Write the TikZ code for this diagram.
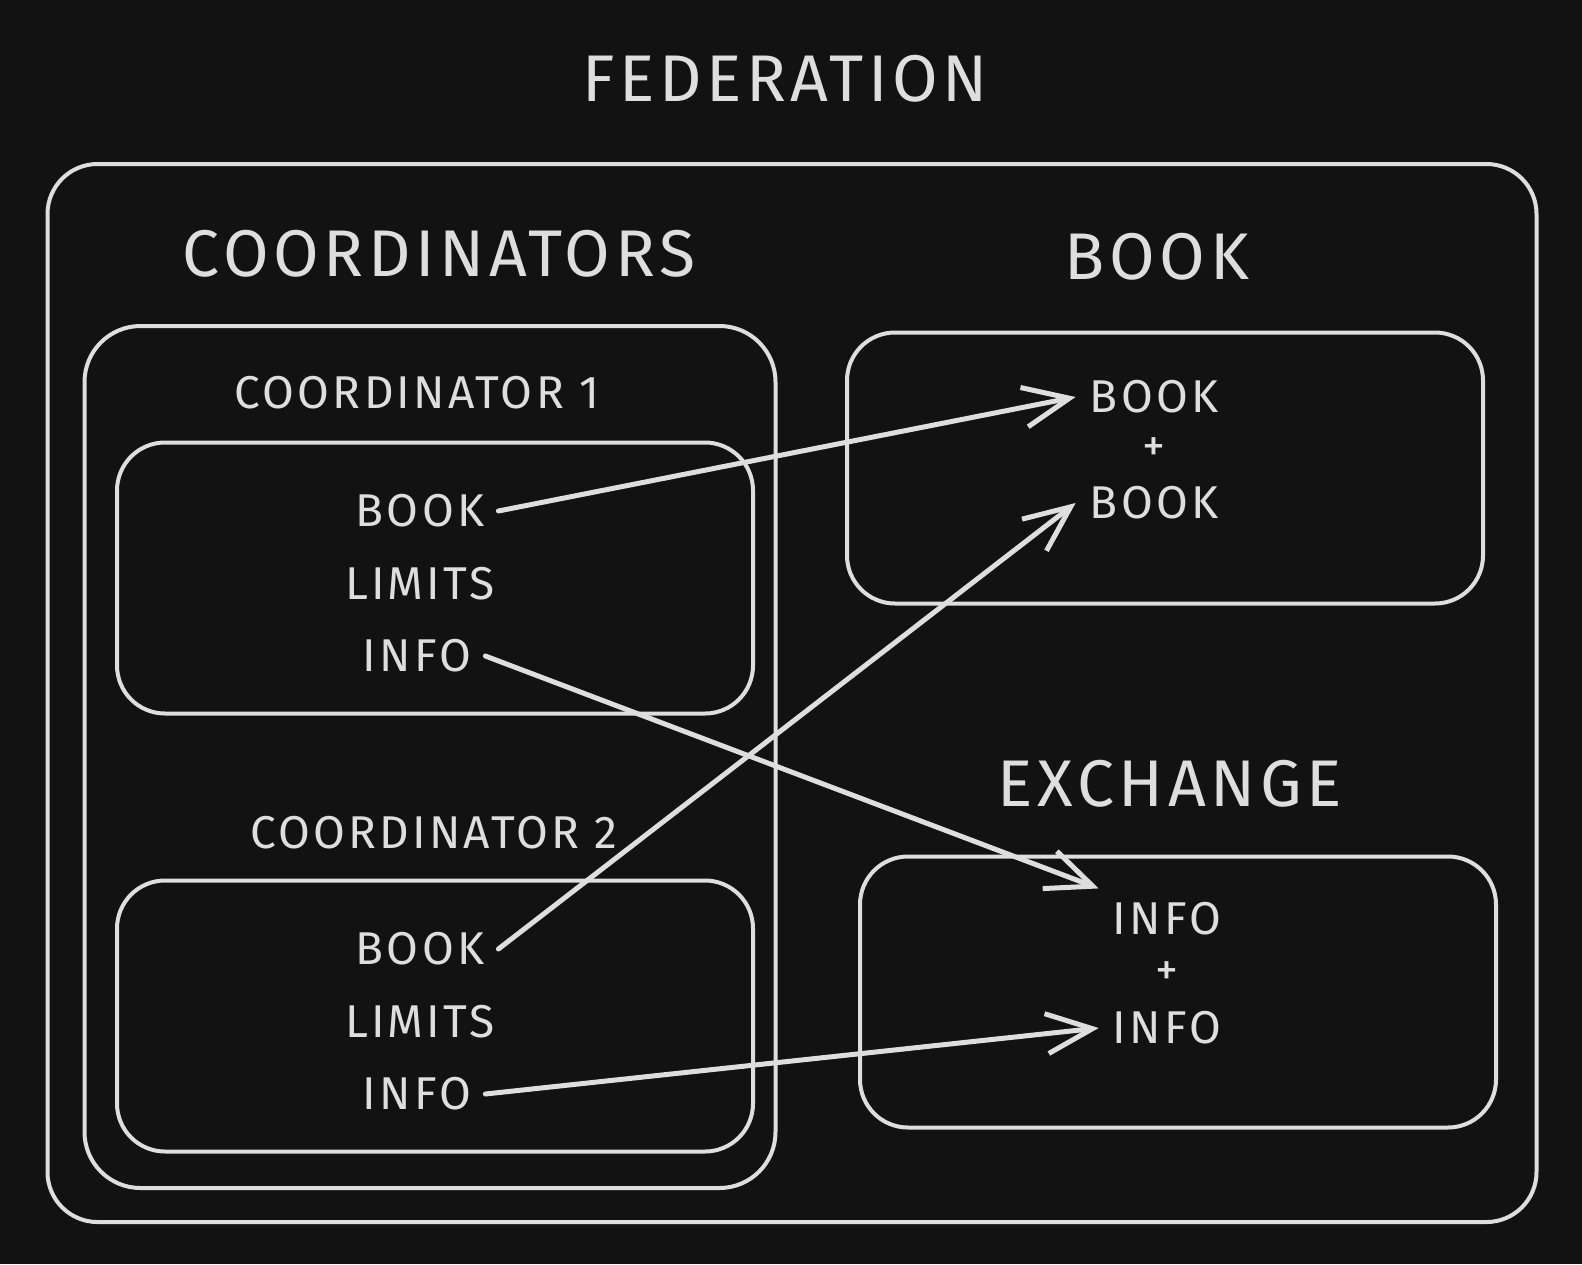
\documentclass[tikz,border=0pt]{standalone}
\usepackage{fontspec}
\setmainfont{Fira Sans}[LetterSpace=7]
\usetikzlibrary{arrows.meta}
\definecolor{bg}{RGB}{18,18,18}
\definecolor{ink}{RGB}{222,222,222}
\tikzstyle{box}=[draw=ink,line width=4pt,rounded corners=48pt,minimum width=636pt,minimum height=271pt]
\tikzstyle{title}=[text=ink,font=\fontsize{66}{72}\selectfont]
\tikzstyle{sub}=[text=ink,font=\fontsize{46}{52}\selectfont]
\tikzstyle{item}=[text=ink,font=\fontsize{46}{52}\selectfont,inner sep=14pt]
\tikzstyle{link}=[draw=ink,line width=5pt,line cap=round,line join=round,-{Straight Barb[length=46pt,width=40pt]}]

\begin{document}
\begin{tikzpicture}[x=1pt,y=-1pt]
	\fill[bg] (0,0) rectangle (1582,1264);
	\useasboundingbox (0,0) rectangle (1582,1264);
	%outer boxes
	\node[box,rounded corners=50pt,minimum width=1489pt,minimum height=1058pt] (fed) at (792,693) {};
	\node[box,rounded corners=56pt,minimum width=691pt,minimum height=862pt] (coords) at (430,757) {};
	\node[box] (bookbox) at (1165,468) {};
	\node[box] (exbox) at (1178,992) {};
	%labels
	\node[title] (fedlbl) at (785,79) {FEDERATION};
	\node[title] (coordslbl) at (439,254) {COORDINATORS};
	\node[title] (booklbl) at (1157,257) {BOOK};
	\node[title] (exlbl) at (1170,784) {EXCHANGE};
	%coordinators
	\foreach \n/\y/\lx in {1/0/417,2/438/434}
	{
		\node[sub] (c\n-lbl) at (\lx,393+\y+1.5*\n-1.5) {COORDINATOR \n};
		\node[box] (c\n-box) at (435,578+\y) {};
		\node[item] (c\n-book) at (420,511+\y) {BOOK};
		\node[item] (c\n-limits) at (420,584+\y) {LIMITS};
		\node[item] (c\n-info) at (417,656+\y) {INFO};
	}
	%book
	\node[item] (bk-top) at (1154,397) {BOOK};
	\node[item] (bk-plus) at (1154,450) {+};
	\node[item] (bk-bot) at (1154,503) {BOOK};
	%exchange
	\node[item] (ex-top) at (1167,919) {INFO};
	\node[item] (ex-plus) at (1167,974) {+};
	\node[item] (ex-bot) at (1167,1028) {INFO};
	%arrows
	\draw[link] (c1-book.east) -- (bk-top.west);
	\draw[link] (c2-book.east) -- (bk-bot.west);
	\draw[link] (c1-info.east) -- (ex-top.north west);
	\draw[link] (c2-info.east) -- (ex-bot.west);
\end{tikzpicture}
\end{document}
